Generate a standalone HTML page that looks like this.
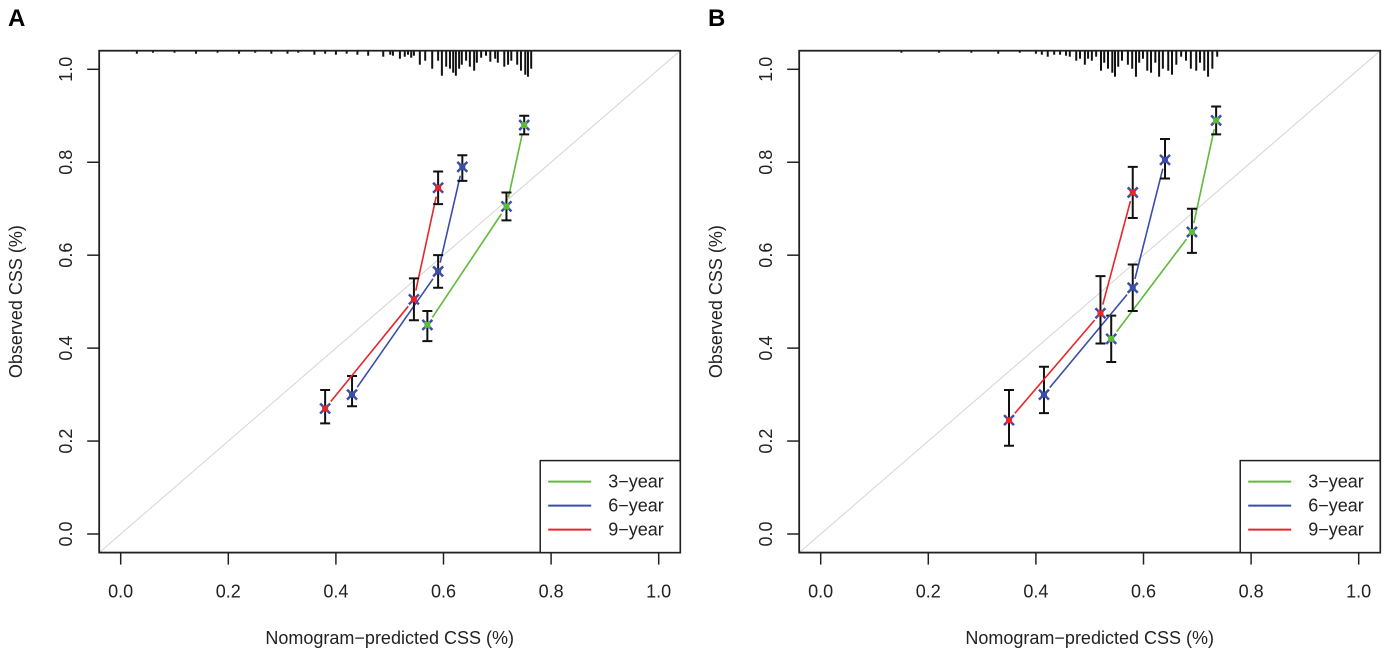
<!DOCTYPE html>
<html><head><meta charset="utf-8"><style>
html,body{margin:0;padding:0;background:#fff;}
svg{display:block;font-family:"Liberation Sans",Arial,sans-serif;}
</style></head><body>
<svg id="chart" width="1384" height="653" viewBox="0 0 1384 653" xmlns="http://www.w3.org/2000/svg"></svg>
<script>
const xTicks=[0,0.2,0.4,0.6,0.8,1.0];
const yTicks=[0,0.2,0.4,0.6,0.8,1.0];
const tickLabels=["0.0","0.2","0.4","0.6","0.8","1.0"];
const seriesNames=["3-year","6-year","9-year"];
const seriesColors=["#5dbb3a","#3a4ea8","#e8252a"];
// Panel A
const aX3=[0.57,0.717,0.75], aY3=[0.45,0.705,0.88], aLo3=[0.415,0.675,0.86], aHi3=[0.48,0.735,0.90];
const aX6=[0.43,0.59,0.635], aY6=[0.30,0.565,0.79], aLo6=[0.275,0.53,0.76], aHi6=[0.34,0.60,0.815];
const aX9=[0.38,0.545,0.59], aY9=[0.27,0.505,0.745], aLo9=[0.238,0.46,0.71], aHi9=[0.31,0.55,0.78];
// Panel B
const bX3=[0.54,0.69,0.735], bY3=[0.42,0.65,0.89], bLo3=[0.37,0.605,0.86], bHi3=[0.47,0.70,0.92];
const bX6=[0.415,0.58,0.64], bY6=[0.30,0.53,0.805], bLo6=[0.26,0.48,0.765], bHi6=[0.36,0.58,0.85];
const bX9=[0.35,0.52,0.58], bY9=[0.245,0.475,0.735], bLo9=[0.19,0.41,0.68], bHi9=[0.31,0.555,0.79];
// rug (predicted values, depth)
const aRugV=[.03,.06,.1,.14,.18,.22,.25,.28,.31,.33,.36,.38,.40,.42,.44,.46,.488,.501,.506,.519,.528,.534,.540,.545,.556,.566,.579,.590,.597,.605,.612,.618,.623,.629,.634,.642,.649,.657,.662,.670,.679,.687,.696,.701,.713,.720,.726,.737,.744,.752,.757,.763];
const aRugD=[3,2,2,3,2,3,2,3,3,2,4,3,4,3,4,5,6,4,5,8,6,4,7,5,14,10,18,10,25,16,18,22,25,18,14,10,16,20,12,7,5,11,8,12,16,14,10,14,20,24,26,18];
const bRugV=[.15,.22,.28,.33,.37,.40,.411,.422,.434,.445,.456,.463,.475,.482,.491,.497,.504,.512,.521,.527,.534,.542,.547,.553,.560,.571,.579,.586,.592,.599,.607,.614,.622,.629,.636,.646,.653,.661,.670,.679,.688,.698,.705,.713,.720,.728,.737];
const bRugD=[2,2,2,3,2,3,4,6,4,4,5,6,10,8,14,8,10,6,20,12,18,22,26,16,10,14,18,26,12,8,20,22,12,26,18,20,24,14,6,10,18,20,12,20,26,18,6];

const NS="http://www.w3.org/2000/svg";
const svg=document.getElementById('chart');
function mk(tag,attrs,parent){const e=document.createElementNS(NS,tag);for(const k in attrs)e.setAttribute(k,attrs[k]);(parent||svg).appendChild(e);return e;}

function panel(off,letter,S,rugV,rugD){
  const g=mk('g',{});
  
  
  const xs=v=>off+120.7+v*538, ys=v=>534-v*464.7;
  const L=xs(-0.04),R=xs(1.04),T=ys(1.04),B=ys(-0.04);
  const t=mk('text',{x:off+8,y:26,'font-size':24,'font-weight':'bold'},g);t.textContent=letter;
  
  
  const d=mk('line',{x1:L,y1:B,x2:R,y2:T,stroke:'#d4d4d4','stroke-width':1},g);
  
  
  rugV.forEach((v,i)=>{const r=mk('line',{x1:xs(v),x2:xs(v),y1:T,y2:T+rugD[i],stroke:'#111','stroke-width':2},g);
    
    });
  S.forEach((s,si)=>{
    const col=seriesColors[si];
    for(let i=0;i<s.x.length-1;i++){
      let x1=xs(s.x[i]),y1=ys(s.y[i]),x2=xs(s.x[i+1]),y2=ys(s.y[i+1]);
      const dx=x2-x1,dy=y2-y1,len=Math.hypot(dx,dy),gap=9;
      const ln=mk('line',{x1:x1+dx/len*gap,y1:y1+dy/len*gap,x2:x2-dx/len*gap,y2:y2-dy/len*gap,stroke:col,'stroke-width':1.6},g);
      
      
    }
    s.x.forEach((v,i)=>{
      const cx=xs(v),cy=ys(s.y[i]),lo=ys(s.lo[i]),hi=ys(s.hi[i]);
      const eb=mk('path',{d:`M${cx},${lo}V${hi}M${cx-5},${lo}H${cx+5}M${cx-5},${hi}H${cx+5}`,stroke:'#111','stroke-width':2,fill:'none'},g);
      
      
      const p=mk('path',{d:`M${cx-5},${cy-5}L${cx+5},${cy+5}M${cx-5},${cy+5}L${cx+5},${cy-5}`,stroke:'#3a4ea8','stroke-width':2.5},g);
      
      
      const c=mk('rect',{x:cx-3,y:cy-3,width:6,height:6,fill:col},g);
      
      
    });
  });
  const bx=mk('rect',{x:L,y:T,width:R-L,height:B-T,fill:'none',stroke:'#222','stroke-width':1.8},g);
  
  
  xTicks.forEach((v,i)=>{
    const tk=mk('line',{x1:xs(v),x2:xs(v),y1:B,y2:B+12,stroke:'#222','stroke-width':1.5},g);
    
    
    const tl=mk('text',{x:xs(v),y:B+45,'font-size':18,'text-anchor':'middle',fill:'#222'},g);tl.textContent=tickLabels[i];
    
    
  });
  yTicks.forEach((v,i)=>{
    const tk=mk('line',{x1:L-12,x2:L,y1:ys(v),y2:ys(v),stroke:'#222','stroke-width':1.5},g);
    
    
    const tl=mk('text',{x:0,y:0,'font-size':18,'text-anchor':'middle',fill:'#222',transform:`translate(${L-27},${ys(v)}) rotate(-90)`},g);tl.textContent=tickLabels[i];
    
    
  });
  const xl=mk('text',{x:(L+R)/2,y:644,'font-size':18,'text-anchor':'middle',fill:'#222'},g);xl.textContent='Nomogram\u2212predicted CSS (%)';
  
  
  const yl=mk('text',{x:0,y:0,'font-size':18,'text-anchor':'middle',fill:'#222',transform:`translate(${off+22},${(T+B)/2}) rotate(-90)`},g);yl.textContent='Observed CSS (%)';
  
  
  const lg=mk('g',{},g);
  
  
  mk('rect',{x:R-140,y:B-92,width:140,height:92,fill:'#fff',stroke:'#222','stroke-width':1.5},lg);
  seriesNames.forEach((n,i)=>{
    const yy=B-71+i*24;
    const ll=mk('line',{x1:R-132,x2:R-89,y1:yy,y2:yy,stroke:seriesColors[i],'stroke-width':2},lg);
    
    
    const lt=mk('text',{x:R-72,y:yy+6,'font-size':18,fill:'#222'},lg);lt.textContent=n.replace('-','\u2212');
    
    
  });
}
panel(0,'A',[{x:aX3,y:aY3,lo:aLo3,hi:aHi3},{x:aX6,y:aY6,lo:aLo6,hi:aHi6},{x:aX9,y:aY9,lo:aLo9,hi:aHi9}],aRugV,aRugD);
panel(700,'B',[{x:bX3,y:bY3,lo:bLo3,hi:bHi3},{x:bX6,y:bY6,lo:bLo6,hi:bHi6},{x:bX9,y:bY9,lo:bLo9,hi:bHi9}],bRugV,bRugD);
</script>
</body></html>
